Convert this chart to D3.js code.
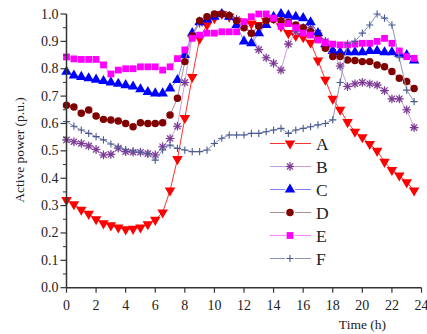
<!DOCTYPE html>
<html><head><meta charset="utf-8">
<script src="https://cdn.jsdelivr.net/npm/d3@7"></script>
<style>body{margin:0;background:#fff}svg{display:block}</style>
</head><body>
<svg id="c" width="427" height="334"></svg>
<script>
const hours = d3.range(0, 24, 0.5);
const seriesNames = ["A","B","C","D","E","F"];
const A = [.32,.305,.285,.27,.25,.235,.228,.22,.213,.215,.22,.232,.248,.275,.355,.47,.62,.77,.91,.96,.985,1.0,.99,.975,.97,.965,.96,.975,.985,.955,.93,.92,.915,.895,.83,.76,.69,.65,.605,.57,.55,.525,.5,.46,.43,.41,.385,.355];
const B = [.54,.533,.527,.518,.505,.485,.487,.51,.497,.495,.495,.49,.485,.515,.545,.59,.75,.92,.966,.985,.995,1.0,.99,.98,.955,.93,.87,.84,.82,.795,.89,.935,.95,.95,.93,.9,.86,.81,.735,.745,.75,.745,.74,.72,.69,.69,.66,.635];
const B_tail = [.65,.585];
const C = [.789,.775,.77,.765,.76,.755,.75,.745,.74,.735,.725,.715,.71,.71,.728,.759,.85,.93,.97,.98,.99,1.0,.99,.96,.9,.893,.93,.96,.99,1.0,.995,.99,.985,.97,.93,.89,.865,.86,.86,.86,.86,.865,.865,.86,.86,.855,.85,.83];
const D = [.667,.66,.637,.649,.627,.615,.613,.609,.6,.588,.603,.6,.6,.603,.631,.692,.826,.92,.975,.99,1.0,1.0,.995,.975,.95,.93,.955,.975,.98,.975,.97,.96,.95,.935,.91,.875,.845,.845,.832,.83,.826,.826,.814,.807,.79,.765,.753,.728];
const E = [.843,.836,.834,.834,.834,.814,.781,.795,.8,.8,.807,.807,.807,.795,.807,.837,.869,.911,.923,.93,.93,.935,.935,.935,.972,.99,1.0,1.0,.985,.955,.965,.95,.93,.923,.905,.895,.89,.887,.887,.89,.893,.893,.9,.911,.893,.865,.844,.838];
const F = [.607,.59,.576,.564,.552,.54,.525,.515,.505,.5,.495,.49,.466,.503,.521,.509,.503,.497,.497,.503,.527,.546,.558,.558,.558,.564,.564,.57,.576,.582,.564,.576,.582,.588,.595,.6,.613,.75,.893,.9,.93,.96,1.0,.985,.96,.84,.722,.68];
const xTicks = [0,2,4,6,8,10,12,14,16,18,20,22,24];
const yTicks = [0,.1,.2,.3,.4,.5,.6,.7,.8,.9,1.0];
const xLabel = "Time (h)";
const yLabel = "Active power (p.u.)";

const Bfull = B.slice(0,46).concat(B_tail);
const data = [A, Bfull, C, D, E, F];

const styles = [
  {line:"#ff3030", fill:"#ff0000", stroke:"#ff0000", type:"tridown"},
  {line:"#c8a0dc", fill:"#d8b8ec", stroke:"#7a3a90", type:"ast"},
  {line:"#7f7fff", fill:"#0000ff", stroke:"#0000ff", type:"triup"},
  {line:"#a89090", fill:"#800000", stroke:"#800000", type:"circle"},
  {line:"#ff80ff", fill:"#ff00ff", stroke:"#ff00ff", type:"square"},
  {line:"#8a93b8", fill:"none", stroke:"#4a5a90", type:"plus"}
];

const svg = d3.select("#c");
const x = d3.scaleLinear().domain([0,24]).range([66.5,421.5]);
const y = d3.scaleLinear().domain([0,1.0]).range([287.7,14]);

function markerPath(type){
  if(type==="tridown") return d3.symbol(d3.symbolTriangle, 48)();
  if(type==="triup") return d3.symbol(d3.symbolTriangle, 48)();
  if(type==="circle") return d3.symbol(d3.symbolCircle, 44)();
  if(type==="square") return d3.symbol(d3.symbolSquare, 46)();
  if(type==="ast"){const r=4.4,q=r*0.72;return `M${-r},0L${r},0M0,${-r}L0,${r}M${-q},${-q}L${q},${q}M${-q},${q}L${q},${-q}`;}
  if(type==="plus"){const r=3.6;return `M${-r},0L${r},0M0,${-r}L0,${r}`;}
}
function drawMarker(g, type, st, cx, cy){
  const p = g.append("path").attr("d", markerPath(type))
    .attr("transform", `translate(${cx},${cy})` + (type==="tridown"?" rotate(180)":""));
  if(type==="ast"){
    g.insert("circle").attr("cx",cx).attr("cy",cy).attr("r",3.3).attr("fill",st.fill).attr("opacity",0.8);
    p.raise().attr("fill","none").attr("stroke",st.stroke).attr("stroke-width",1.1);
  } else if(type==="plus"){
    p.attr("fill","none").attr("stroke",st.stroke).attr("stroke-width",1.1);
  } else {
    p.attr("fill",st.fill).attr("stroke","none");
  }
}

const line = d3.line().x((d,i)=>x(hours[i])).y(d=>y(d));
const plot = svg.append("g");
data.forEach((vals,k)=>{
  const st = styles[k];
  const g = plot.append("g");
  g.append("path").attr("d", line(vals)).attr("fill","none").attr("stroke",st.line).attr("stroke-width",1);
  vals.forEach((v,i)=>drawMarker(g, st.type, st, x(hours[i]), y(v)));
});

// axes
const axG = svg.append("g").attr("font-family","Liberation Serif").attr("fill","#222");
axG.append("line").attr("x1",x(0)).attr("x2",x(24)).attr("y1",y(0)).attr("y2",y(0)).attr("stroke","#333").attr("stroke-width",1.5);
axG.append("line").attr("x1",x(0)).attr("x2",x(0)).attr("y1",y(0)).attr("y2",y(1)).attr("stroke","#333").attr("stroke-width",1.5);
xTicks.forEach(t=>{
  axG.append("line").attr("x1",x(t)).attr("x2",x(t)).attr("y1",y(0)).attr("y2",y(0)+5).attr("stroke","#333").attr("stroke-width",1.2);
  axG.append("text").attr("x",x(t)).attr("y",y(0)+22).attr("text-anchor","middle").attr("font-size",14).text(t);
});
yTicks.forEach(t=>{
  axG.append("line").attr("x1",x(0)-6).attr("x2",x(0)).attr("y1",y(t)).attr("y2",y(t)).attr("stroke","#333").attr("stroke-width",1.2);
  axG.append("text").attr("x",x(0)-8).attr("y",y(t)+4.5).attr("text-anchor","end").attr("font-size",14).text(d3.format(".1f")(t));
});
d3.range(0.05,1.0,0.1).forEach(t=>{
  axG.append("line").attr("x1",x(0)-3.5).attr("x2",x(0)).attr("y1",y(t)).attr("y2",y(t)).attr("stroke","#333").attr("stroke-width",1);
});
axG.append("text").attr("x",386).attr("y",329).attr("text-anchor","end").attr("font-size",13.5).text(xLabel);
axG.append("text").attr("transform",`translate(24,${150}) rotate(-90)`).attr("text-anchor","middle").attr("font-size",13.5).text(yLabel);

// legend
const leg = svg.append("g");
seriesNames.forEach((n,k)=>{
  const st = styles[k];
  const ly = 143.5 + k*23;
  const g = leg.append("g");
  g.append("line").attr("x1",270).attr("x2",285).attr("y1",ly).attr("y2",ly).attr("stroke",st.line).attr("stroke-width",1);
  g.append("line").attr("x1",295).attr("x2",311).attr("y1",ly).attr("y2",ly).attr("stroke",st.line).attr("stroke-width",1);
  drawMarker(g, st.type, st, 290, ly);
  g.append("text").attr("x",316).attr("y",ly+6).attr("font-family","Liberation Serif").attr("font-size",17.5).attr("fill","#222").text(n);
});
</script>
</body></html>
